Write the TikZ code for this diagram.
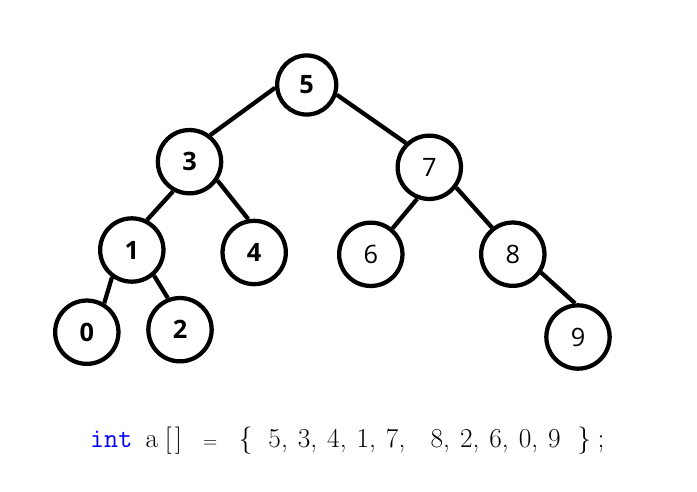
\documentclass[tikz,border=0pt]{standalone}
\usepackage{fontspec}
\newfontfamily\keyfont{Open Sans}
\usetikzlibrary{positioning}

\begin{document}
\begin{tikzpicture}[x=0.75pt,y=-0.75pt,line width=3.2pt,
  key/.style={circle,draw,minimum size=47.5pt,inner sep=0pt,font={\keyfont\fontsize{19}{22}\selectfont\bfseries}},
  leaf/.style={key,font={\keyfont\fontsize{19}{22}\selectfont}}]
\useasboundingbox (0,0) rectangle (697,492);
\node[key,minimum size=44.3pt] (n5) at (306.7,85) {5};
\foreach \k/\x/\y in {3/189.5/161.7,1/131.8/250,4/254.2/252.5,0/86.8/332.2,2/180/329.7}{
\node[key] (n\k) at (\x,\y) {\k};}
\foreach \k/\x/\y in {7/429.3/167.3,6/370.8/254.3,8/512.8/254.2,9/578/337}{
\node[leaf] (n\k) at (\x,\y) {\k};}
\foreach \a/\b in {5.185/3.52,5.342/7.134,3.241/1.63,3.326/4.100,1.234/0.59,1.311/2.111,7.249/6.50,7.323/8.128,8.327/9.95}{
\draw (n\a)--(n\b);}
% declaration under the tree
\node[anchor=base west,inner sep=0pt,font=\fontsize{20.5}{24}\selectfont] (decl) at (88,447)
  {\texttt{\color{blue}int}\hspace{10pt}a\hspace{5pt}[\hspace{2.5pt}]\hspace{16pt}{\fontsize{14}{14}\selectfont=}\hspace{16pt}\{\hspace{12pt}%
   5,\hspace{7.5pt}3,\hspace{7.5pt}4,\hspace{7.5pt}1,\hspace{7.5pt}7,\hspace{19pt}8,\hspace{7.5pt}2,\hspace{7.5pt}6,\hspace{7.5pt}0,\hspace{7.5pt}9\hspace{12.5pt}\}\hspace{5pt};};
\end{tikzpicture}
\end{document}
